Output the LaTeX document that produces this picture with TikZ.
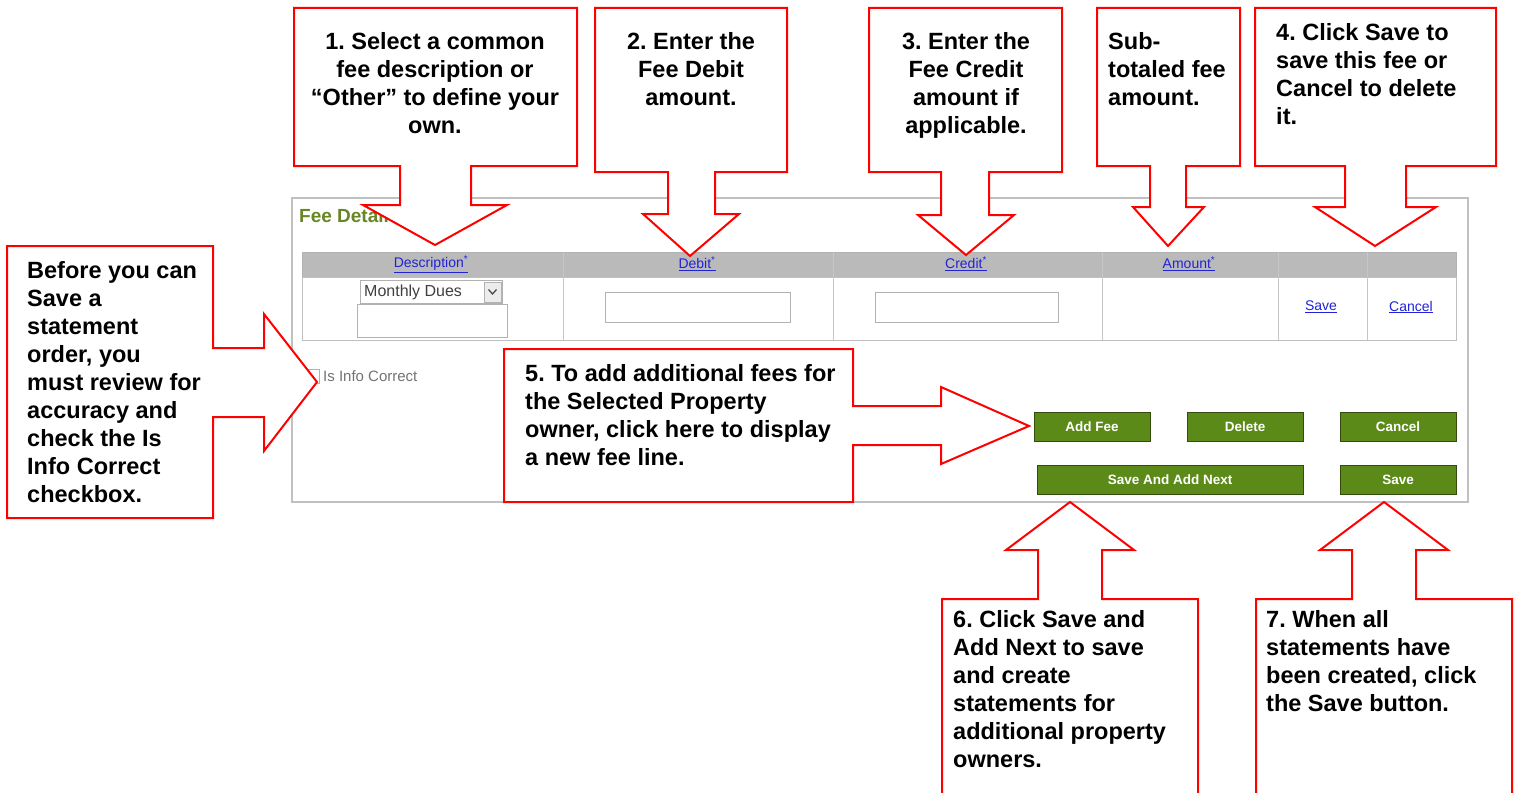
\documentclass[tikz,border=0pt]{standalone}
\usepackage{fontspec}
\setmainfont{Liberation Sans}
\usetikzlibrary{positioning}
\frenchspacing

\definecolor{calloutred}{RGB}{255,0,0}
\definecolor{btngreen}{RGB}{92,138,24}
\definecolor{linkblue}{RGB}{34,34,214}
\definecolor{feeolive}{RGB}{104,134,36}
\definecolor{hdrgray}{RGB}{186,186,186}
\definecolor{framegray}{RGB}{192,192,192}

\begin{document}
\begin{tikzpicture}[x=1pt,y=-1pt,
    callout/.style={draw=calloutred,line width=2pt,fill=white,line join=miter},
    note/.style={inner sep=0pt,font=\fontsize{23.5}{28}\selectfont\bfseries,align=left},
    link/.style={inner sep=0pt,text=linkblue,font=\fontsize{14}{16}\selectfont},
    uitext/.style={inner sep=0pt,font=\fontsize{15}{17}\selectfont},
    field/.style={draw=gray!60,fill=white,line width=1pt,inner sep=0pt},
    btn/.style={draw=btngreen!55!black,fill=btngreen,line width=1pt,text=white,
                font=\fontsize{13.5}{15}\selectfont\bfseries,inner sep=0pt,
                minimum height=29pt}]
    \useasboundingbox (0,0) rectangle (1514,792);

    % fee detail panel
    \draw[framegray,line width=2.5pt] (292,198) rectangle (1468,502);
    \node[anchor=west,inner sep=0pt,text=feeolive,font=\fontsize{19}{22}\selectfont\bfseries] (title) at (299,216) {Fee Detail};

    % table: header row, body row, column rules
    \draw[draw=gray!60,fill=hdrgray] (302,252) rectangle (1456,277);
    \draw[draw=gray!50,line width=1pt] (302,277) rectangle (1456,340);
    \foreach \cx in {563,833,1102,1278,1367}
        \draw[gray!45,line width=1pt] (\cx,252) -- (\cx,340);

    \node[link] (hdesc)   at (431,264)  {\underline{Description\textsuperscript{*}}};
    \node[link] (hdebit)  at (697,264)  {\underline{Debit\textsuperscript{*}}};
    \node[link] (hcredit) at (966,264)  {\underline{Credit\textsuperscript{*}}};
    \node[link] (hamount) at (1189,264) {\underline{Amount\textsuperscript{*}}};

    \node[field,minimum width=142pt,minimum height=23pt] (dues) at (431,292) {};
    \node[uitext,anchor=west,text=black!75,font=\fontsize{16}{18}\selectfont] (duestext) at (364,292) {Monthly Dues};
    \draw[gray!60,fill=gray!15] (484,282) rectangle (501,302);
    \draw[black!70,line width=1.3pt] (488.5,289.5) -- (492.5,294) -- (496.5,289.5);
    \node[field,minimum width=150pt,minimum height=33pt] (other)  at (432,320.5) {};
    \node[field,minimum width=185pt,minimum height=30pt] (debit)  at (697.5,307) {};
    \node[field,minimum width=183pt,minimum height=30pt] (credit) at (966.5,307) {};
    \node[link] (rowsave)   at (1321,307) {\underline{Save}};
    \node[link] (rowcancel) at (1411,307) {\underline{Cancel}};

    % checkbox and buttons
    \node[field,minimum width=12pt,minimum height=14pt] (chk) at (313.5,376.5) {};
    \node[uitext,text=black!55,anchor=west,right=3pt of chk] (chklabel) {Is Info Correct};

    \node[btn,minimum width=116pt] (addfee)  at (1092,426.5) {Add Fee};
    \node[btn,minimum width=116pt] (delete)  at (1245,426.5) {Delete};
    \node[btn,minimum width=116pt] (cancel)  at (1398,426.5) {Cancel};
    \node[btn,minimum width=266pt] (savenext) at (1170,479.5) {Save And Add Next};
    \node[btn,minimum width=116pt] (save)    at (1398,479.5) {Save};

    % callouts pointing down
    \path[callout] (294,8) -- (577,8) -- (577,166) -- (471,166) -- (471,205) -- (507,205)
        -- (435,245) -- (363,205) -- (400,205) -- (400,166) -- (294,166) -- cycle;
    \path[callout] (595,8) -- (787,8) -- (787,172) -- (715,172) -- (715,214) -- (739,214)
        -- (690,256) -- (643,214) -- (668,214) -- (668,172) -- (595,172) -- cycle;
    \path[callout] (869,8) -- (1062,8) -- (1062,172) -- (989,172) -- (989,215) -- (1014,215)
        -- (966,255) -- (918,215) -- (941,215) -- (941,172) -- (869,172) -- cycle;
    \path[callout] (1097,8) -- (1240,8) -- (1240,166) -- (1186,166) -- (1186,207) -- (1204,207)
        -- (1168,246) -- (1133,207) -- (1150,207) -- (1150,166) -- (1097,166) -- cycle;
    \path[callout] (1255,8) -- (1496,8) -- (1496,166) -- (1406,166) -- (1406,207) -- (1436,207)
        -- (1375,246) -- (1315,207) -- (1345,207) -- (1345,166) -- (1255,166) -- cycle;

    % callouts pointing right
    \path[callout] (7,246) -- (213,246) -- (213,348) -- (264,348) -- (264,314) -- (317,382)
        -- (264,451) -- (264,417) -- (213,417) -- (213,518) -- (7,518) -- cycle;
    \path[callout] (504,349) -- (853,349) -- (853,406) -- (941,406) -- (941,387) -- (1029,426)
        -- (941,464) -- (941,445) -- (853,445) -- (853,502) -- (504,502) -- cycle;

    % callouts pointing up (open at the bottom)
    \fill[white] (942,599) rectangle (1198,795);
    \fill[white] (1256,599) rectangle (1512,795);
    \path[callout] (942,795) -- (942,599) -- (1038,599) -- (1038,550) -- (1006,550) -- (1070,502)
        -- (1134,550) -- (1102,550) -- (1102,599) -- (1198,599) -- (1198,795);
    \path[callout] (1256,795) -- (1256,599) -- (1352,599) -- (1352,550) -- (1320,550) -- (1384,502)
        -- (1448,550) -- (1416,550) -- (1416,599) -- (1512,599) -- (1512,795);

    % callout texts
    \node[note,align=center,anchor=north] (n1) at (435,32)
        {1. Select a common\\fee description or\\“Other” to define your\\own.};
    \node[note,align=center,anchor=north] (n2) at (691,32)
        {2. Enter the\\Fee Debit\\amount.};
    \node[note,align=center,anchor=north] (n3) at (966,32)
        {3. Enter the\\Fee Credit\\amount if\\applicable.};
    \node[note,anchor=north west] (nsub) at (1108,32)
        {Sub-\\totaled fee\\amount.};
    \node[note,anchor=north west] (n4) at (1276,23)
        {4. Click Save to\\save this fee or\\Cancel to delete\\it.};
    \node[note,anchor=north west] (ncheck) at (27,261)
        {Before you can\\Save a\\statement\\order, you\\must review for\\accuracy and\\check the Is\\Info Correct\\checkbox.};
    \node[note,anchor=north west] (n5) at (525,364)
        {5. To add additional fees for\\the Selected Property\\owner, click here to display\\a new fee line.};
    \node[note,anchor=north west] (n6) at (953,610)
        {6. Click Save and\\Add Next to save\\and create\\statements for\\additional property\\owners.};
    \node[note,anchor=north west] (n7) at (1266,610)
        {7. When all\\statements have\\been created, click\\the Save button.};
\end{tikzpicture}
\end{document}
